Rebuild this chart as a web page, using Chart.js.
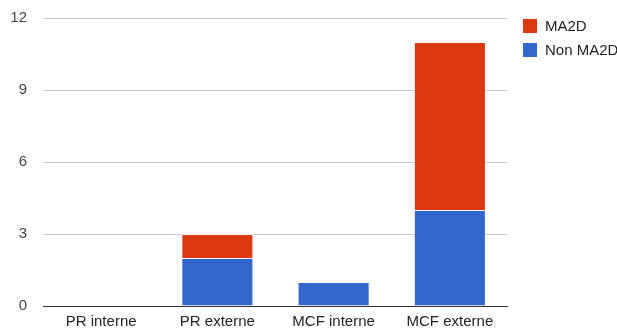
<!DOCTYPE html>
<html>
<head>
<meta charset="utf-8">
<script src="https://cdn.jsdelivr.net/npm/chart.js@4/dist/chart.umd.min.js"></script>
<style>
  html, body { margin: 0; padding: 0; background: #fff; overflow: hidden; }
  #wrap { position: relative; width: 617px; height: 329px; }
</style>
</head>
<body>
<div id="wrap"><canvas id="c"></canvas></div>
<script>
const categories = ['PR interne', 'PR externe', 'MCF interne', 'MCF externe'];
const nonMa2d = [0, 2, 1, 4];
const ma2d = [0, 1, 0, 7];
const yTicks = [0, 3, 6, 9, 12];

const FONT = '"Liberation Sans", Arial, sans-serif';

// Legend on the right, listed top series first
const sideLegend = {
  id: 'sideLegend',
  afterDraw(chart) {
    const ctx = chart.ctx;
    const sets = chart.data.datasets.slice().reverse();
    ctx.save();
    ctx.font = '15px ' + FONT;
    ctx.textBaseline = 'middle';
    sets.forEach((ds, i) => {
      const y = 19 + i * 24;
      ctx.fillStyle = ds.backgroundColor;
      ctx.fillRect(523, y, 14, 14);
      ctx.fillStyle = '#222';
      ctx.fillText(ds.label, 545, y + 7.5);
    });
    ctx.restore();
  }
};

new Chart(document.getElementById('c'), {
  type: 'bar',
  data: {
    labels: categories,
    datasets: [
      { label: 'Non MA2D', data: nonMa2d, backgroundColor: '#3366cc', borderColor: '#ffffff', borderWidth: 1 },
      { label: 'MA2D', data: ma2d, backgroundColor: '#dc3912', borderColor: '#ffffff', borderWidth: 1 }
    ]
  },
  options: {
    responsive: true,
    maintainAspectRatio: false,
    animation: false,
    events: [],
    layout: { padding: { top: 18, right: 109, left: 0, bottom: 0 } },
    datasets: { bar: { categoryPercentage: 1, barPercentage: 0.62 } },
    plugins: { legend: { display: false }, tooltip: { enabled: false } },
    scales: {
      x: {
        stacked: true,
        grid: { display: false, drawTicks: false },
        border: { display: false },
        ticks: { color: '#222', font: { family: FONT, size: 15 }, padding: 7, maxRotation: 0 },
        afterFit(scale) { scale.height = 23; }
      },
      y: {
        stacked: true,
        min: 0,
        max: 12,
        afterBuildTicks(scale) { scale.ticks = yTicks.map(v => ({ value: v })); },
        grid: {
          drawTicks: true,
          tickLength: 16,
          tickColor: 'rgba(0,0,0,0)',
          color: ctx => (ctx.tick && ctx.tick.value === 0) ? '#333333' : '#cccccc',
          lineWidth: 1
        },
        border: { display: false },
        ticks: { color: '#444', font: { family: FONT, size: 15 }, padding: 0 },
        afterFit(scale) { scale.width = 43; }
      }
    }
  },
  plugins: [sideLegend]
});
</script>
</body>
</html>
